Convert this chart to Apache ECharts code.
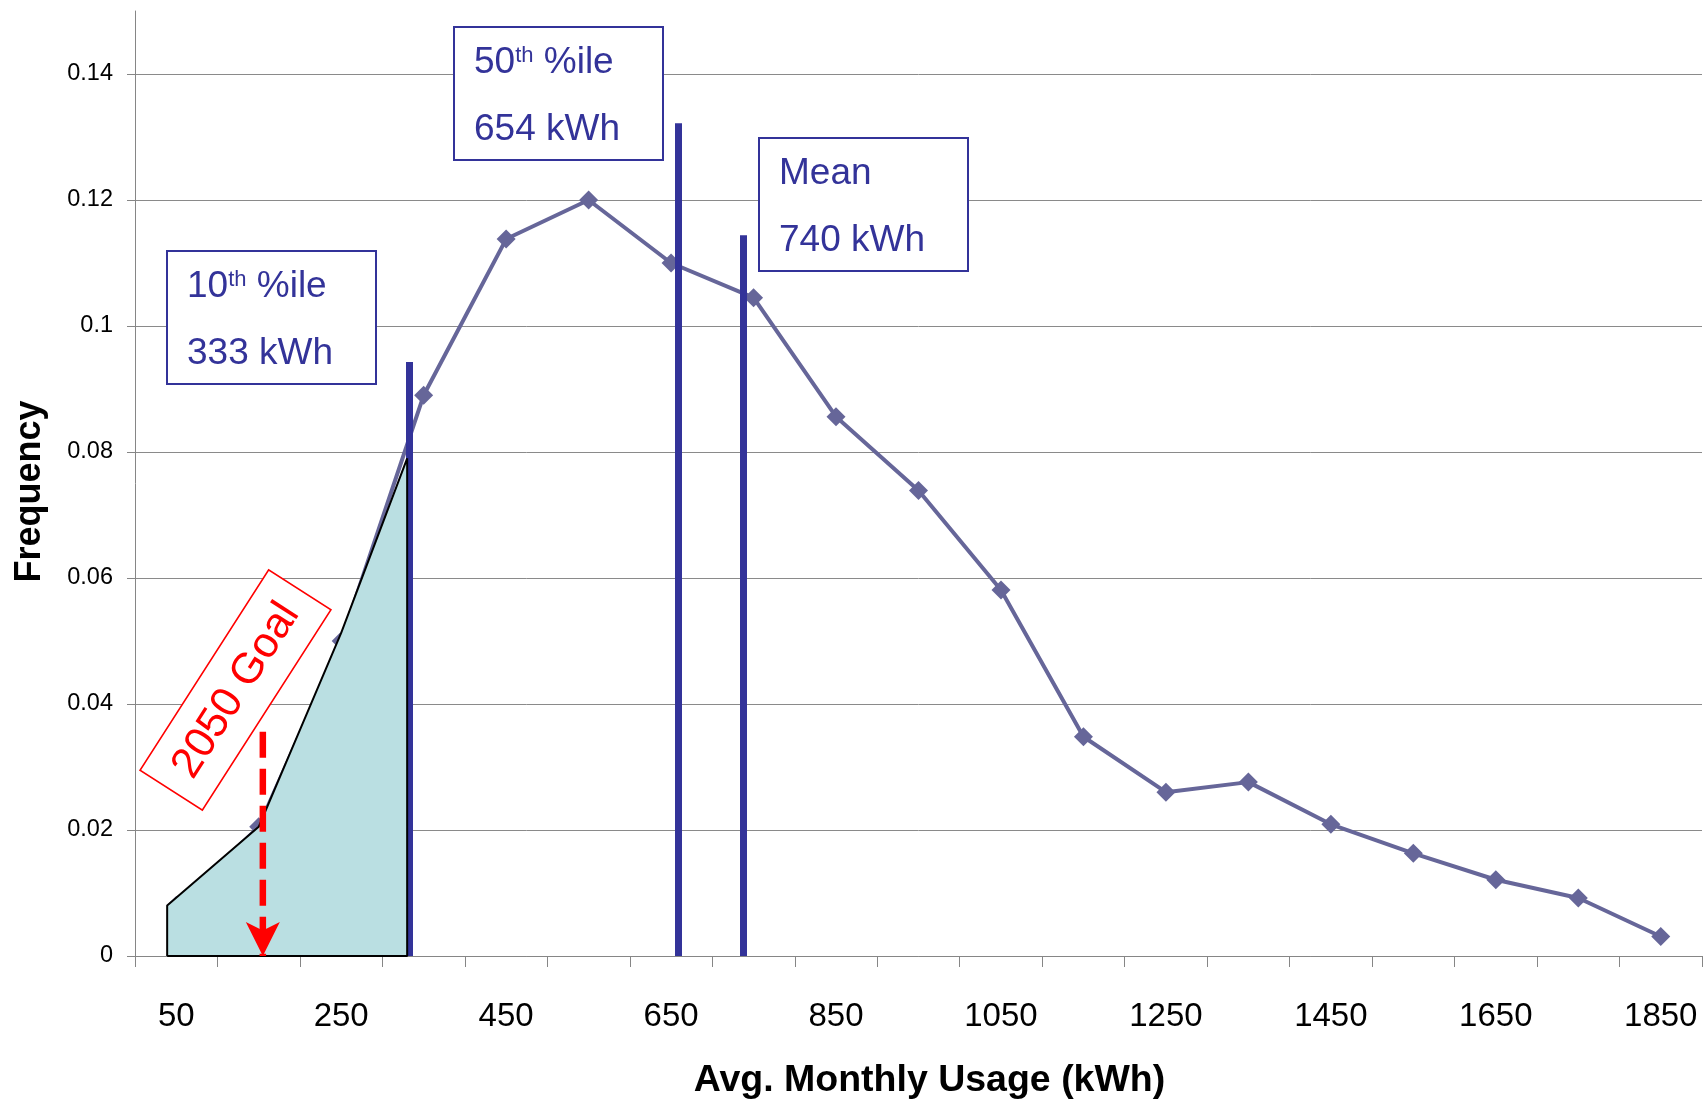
<!DOCTYPE html>
<html>
<head>
<meta charset="utf-8">
<title>Avg. Monthly Usage</title>
<script src="https://cdn.jsdelivr.net/npm/echarts@6/dist/echarts.min.js"></script>
<style>
  html, body { margin: 0; padding: 0; background: #fff; }
  #chart { width: 1705px; height: 1102px; }
</style>
</head>
<body>
<div id="chart"></div>
<script>
// categories (kWh bins) and frequency per bin
const categories = ['50', '150', '250', '350', '450', '550', '650', '750', '850', '950',
  '1050', '1150', '1250', '1350', '1450', '1550', '1650', '1750', '1850'];
const frequency = [0.008, 0.0205, 0.05, 0.089, 0.1138, 0.12, 0.110, 0.1045, 0.0856, 0.0739,
  0.0581, 0.0348, 0.026, 0.0276, 0.0209, 0.0163, 0.0121, 0.0092, 0.0031];

// percentile / mean markers (position in kWh, height of the bar)
const markerX = [332, 659, 737];
const markerTop = [0.0943, 0.1322, 0.1144];
const markerTitle = ['10', '50', 'Mean'];
const markerValue = ['333 kWh', '654 kWh', '740 kWh'];

// shaded 2050 goal area (kWh, frequency)
const goalX = [39, 39, 150, 250, 330, 330, 39];
const goalY = [0, 0.008, 0.0205, 0.0513, 0.079, 0, 0];

// dashed arrow (kWh, start frequency, end frequency)
const arrowX = 155;
const arrowFrom = 0.0356;
const arrowTo = 0;

const chart = echarts.init(document.getElementById('chart'));

const axisGray = '#868686';
const blue = '#333399';
const font = 'Liberation Sans';

// text boxes
const boxPos = [[167, 251], [454, 27], [759, 138]];
const graphics = [];
boxPos.forEach((p, i) => {
  graphics.push({
    type: 'rect', z: 100,
    shape: { x: p[0], y: p[1], width: 209, height: 133 },
    style: { fill: '#fff', stroke: blue, lineWidth: 2 },
  });
  const first = i < 2
    ? '{n|' + markerTitle[i] + '}{s|th}{n| %ile}'
    : '{n|' + markerTitle[i] + '}';
  graphics.push({
    type: 'text', z: 101,
    style: {
      text: first, x: p[0] + 20, y: p[1] + 36, verticalAlign: 'middle',
      fill: blue,
      rich: {
        n: { fontSize: 37, fontFamily: font, fill: blue },
        s: { fontSize: 22, fontFamily: font, fill: blue, verticalAlign: 'top' },
      },
    },
  });
  graphics.push({
    type: 'text', z: 101,
    style: {
      text: markerValue[i], x: p[0] + 20, y: p[1] + 103, verticalAlign: 'middle',
      fill: blue, fontSize: 37, fontFamily: font,
    },
  });
});
// rotated "2050 Goal" label
graphics.push({
  type: 'group', x: 235.5, y: 690, rotation: 57.3 * Math.PI / 180,
  children: [
    {
      type: 'rect', z: 100,
      shape: { x: -119, y: -37, width: 238, height: 74 },
      style: { fill: '#fff', stroke: '#ff0000', lineWidth: 1.6 },
    },
    {
      type: 'text', z: 101,
      style: {
        text: '2050 Goal', x: 0, y: 1, align: 'center', verticalAlign: 'middle',
        fill: '#ff0000', fontSize: 43, fontFamily: font,
      },
    },
  ],
});

chart.setOption({
  animation: false,
  grid: { left: 135, right: 3, top: 11, bottom: 146, containLabel: false, outerBoundsMode: 'none' },
  xAxis: [
    {
      type: 'category',
      data: categories,
      boundaryGap: true,
      axisLine: { lineStyle: { color: axisGray, width: 1 } },
      axisTick: { show: true, interval: 0, length: 11, lineStyle: { color: axisGray } },
      axisLabel: { interval: 1, fontSize: 33, margin: 44, color: '#000', fontFamily: font },
      splitLine: { show: false },
      name: 'Avg. Monthly Usage (kWh)',
      nameLocation: 'middle',
      nameGap: 106,
      nameTextStyle: { fontSize: 37.5, fontWeight: 'bold', color: '#000', fontFamily: font, padding: [0, 0, 0, 22] },
    },
    {
      type: 'value', min: 0, max: 1900, show: false,
    },
  ],
  yAxis: {
    type: 'value',
    min: 0,
    max: 0.15,
    interval: 0.02,
    axisLine: { show: true, lineStyle: { color: axisGray, width: 1 } },
    axisTick: { show: true, length: 8, lineStyle: { color: axisGray } },
    axisLabel: { fontSize: 23.5, margin: 22, color: '#000', fontFamily: font, showMaxLabel: false },
    splitLine: { show: true, showMaxLine: false, lineStyle: { color: '#8a8a8a', width: 1 } },
    name: 'Frequency',
    nameLocation: 'middle',
    nameGap: 87,
    nameTextStyle: { fontSize: 36, fontWeight: 'bold', color: '#000', fontFamily: font, padding: [0, 16, 0, 0] },
  },
  series: [
    {
      name: 'Frequency',
      type: 'line',
      xAxisIndex: 0,
      data: frequency,
      symbol: 'diamond',
      symbolSize: 19,
      itemStyle: { color: '#666699' },
      lineStyle: { color: '#666699', width: 4 },
      z: 2,
    },
    {
      type: 'lines',
      coordinateSystem: 'cartesian2d',
      xAxisIndex: 1,
      yAxisIndex: 0,
      data: markerX.map((x, i) => ({ coords: [[x, 0], [x, markerTop[i]]] })),
      lineStyle: { color: blue, width: 7, opacity: 1 },
      z: 3,
    },
    {
      type: 'line',
      xAxisIndex: 1,
      data: goalX.map((x, i) => [x, goalY[i]]),
      symbol: 'none',
      lineStyle: { color: '#000', width: 2 },
      areaStyle: { color: '#badfe2', opacity: 1 },
      z: 4,
    },
    {
      type: 'line',
      xAxisIndex: 1,
      data: [
        { value: [arrowX, arrowFrom], symbol: 'none' },
        { value: [arrowX, arrowTo], symbol: 'arrow', symbolRotate: 180, symbolSize: [25.5, 34] },
      ],
      itemStyle: { color: '#ff0000' },
      lineStyle: { color: '#ff0000', width: 6.5, type: [26, 11] },
      z: 5,
    },
  ],
  graphic: graphics,
});

window.addEventListener('resize', () => {
  chart.resize();
});
</script>
</body>
</html>
